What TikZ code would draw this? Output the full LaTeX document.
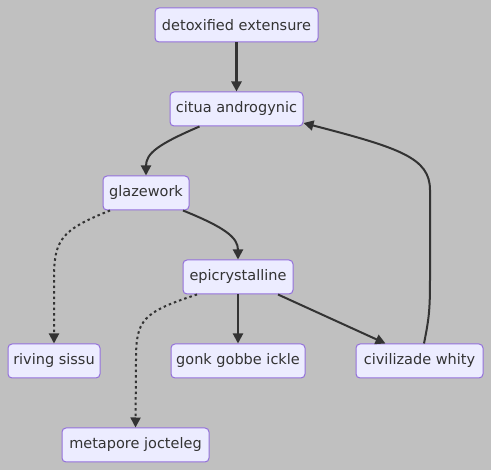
\documentclass[tikz,border=0pt]{standalone}
\usepackage{fontspec}
\setmainfont{DejaVu Sans}
\usetikzlibrary{arrows.meta,calc}
\definecolor{bg}{RGB}{192,192,192}
\definecolor{nfill}{RGB}{236,236,255}
\definecolor{nborder}{RGB}{147,112,219}
\definecolor{edge}{RGB}{51,51,51}
\begin{document}
\begin{tikzpicture}[x=1pt,y=-1pt,
  box/.style={draw=nborder,fill=nfill,line width=1pt,rounded corners=4pt,
    minimum height=34pt,inner xsep=0pt,font=\fontsize{14.5}{16}\selectfont,text=edge},
  link/.style={draw=edge,line width=2pt,-{Triangle[length=10pt,width=10pt]}},
  dotlink/.style={link,dash pattern=on 2.5pt off 3pt}]
\fill[bg] (0,0) rectangle (491,470);
\useasboundingbox (0,0) rectangle (491,470);
\node[box,minimum width=163pt] (det) at (236.5,25) {detoxified extensure};
\node[box,minimum width=133pt] (cit) at (236.5,109) {citua androgynic};
\node[box,minimum width=86pt] (gla) at (146,193) {glazework};
\node[box,minimum width=110pt] (epi) at (238,277) {epicrystalline};
\node[box,minimum width=92pt] (riv) at (54,361) {riving sissu};
\node[box,minimum width=134pt] (gon) at (238,361) {gonk gobbe ickle};
\node[box,minimum width=127pt] (civ) at (419.5,361) {civilizade whity};
\node[box,minimum width=147pt] (met) at (135.5,445) {metapore jocteleg};
\draw[link,line width=2.6pt] (det) -- (cit);
\draw[link] ($(cit.south)+(-37,0)$) .. controls +(-42,18) and +(0,-22) .. (gla.north);
\draw[link] ($(gla.south)+(37,0)$) .. controls +(42,17) and +(0,-22) .. (epi.north);
\draw[dotlink] ($(gla.south)+(-36,0)$) .. controls +(-50,20) and +(0,-40) .. (54,280) -- (riv.north);
\draw[link] (epi) -- (gon);
\draw[link] ($(epi.south)+(40,0)$) -- ($(civ.north)+(-34,0)$);
\draw[dotlink] ($(epi.south)+(-41,0)$) .. controls +(-55,18) and +(0,-40) .. (136,360) -- (met.north);
\draw[link] ($(civ.north)+(4.5,0)$) .. controls +(5,-25) and +(0,30) .. (430,280) -- (430,190) .. controls (430,158) and (400,148) .. ($(cit.east)+(0,14)$);
\end{tikzpicture}
\end{document}
